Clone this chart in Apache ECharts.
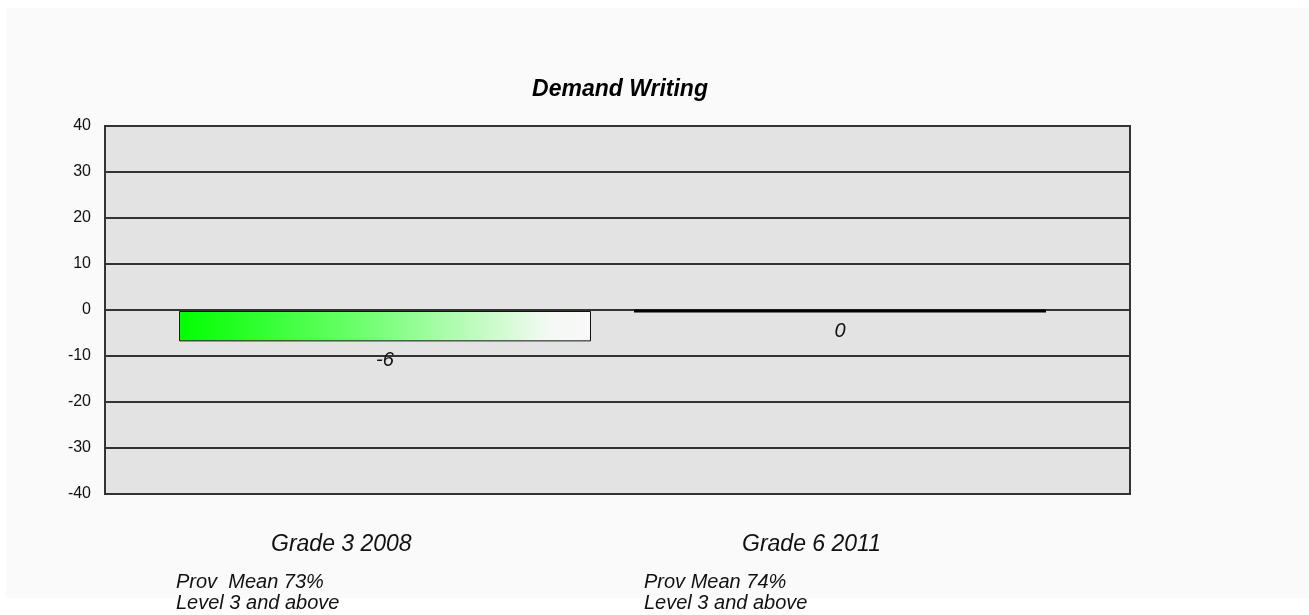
<!DOCTYPE html>
<html>
<head>
<meta charset="utf-8">
<script src="https://cdn.jsdelivr.net/npm/echarts@6/dist/echarts.min.js"></script>
<style>
  html, body { margin: 0; padding: 0; background: #ffffff; }
  #frame { position: absolute; left: 6px; top: 8px; width: 1303px; height: 590px; background: #FAFAFA; }
  #chart { position: absolute; left: 0; top: 0; width: 1309px; height: 615px; }
</style>
</head>
<body>
<div id="frame"></div>
<div id="chart"></div>
<script>
const chartTitle = "Demand Writing";
const categories = ["Grade 3 2008", "Grade 6 2011"];
const values = [-6.6, 0];
const provMean = ["Prov  Mean 73%", "Prov Mean 74%"];
const levelNote = ["Level 3 and above", "Level 3 and above"];
const yTicks = { min: -40, max: 40, interval: 10 };

const chart = echarts.init(document.getElementById('chart'), null, { renderer: 'canvas' });

const grad = new echarts.graphic.LinearGradient(0, 0, 1, 0, [
  { offset: 0, color: '#00FF00' },
  { offset: 0.45, color: '#70FF70' },
  { offset: 0.9, color: '#F4F9F4' },
  { offset: 1, color: '#F8F8F8' }
]);

const barData = values.map(v => ({
  value: v,
  itemStyle: v === 0
    ? { color: '#000', borderColor: '#000', borderWidth: 3 }
    : { color: grad, borderColor: '#111', borderWidth: 1 }
}));

const font = 'Arial, "Liberation Sans", sans-serif';

const labelCenters = [344, 815];
const noteLefts = [176, 644];
const graphics = [];
categories.forEach((c, i) => {
  graphics.push({ type: 'text', left: labelCenters[i] - 73, top: 533,
    style: { text: c, font: 'italic 23px ' + font, fill: '#111' } });
  graphics.push({ type: 'text', left: noteLefts[i], top: 572,
    style: { text: provMean[i], font: 'italic 20px ' + font, fill: '#111' } });
  graphics.push({ type: 'text', left: noteLefts[i], top: 593,
    style: { text: levelNote[i], font: 'italic 20px ' + font, fill: '#111' } });
});

chart.setOption({
  backgroundColor: 'transparent',
  animation: false,
  title: {
    text: chartTitle, left: 615, top: 73, textAlign: 'center',
    textStyle: { fontFamily: font, fontSize: 23, fontStyle: 'italic', fontWeight: 'bold', color: '#000' }
  },
  grid: [
    { left: 105, right: 179, top: 126, bottom: 121, show: true, backgroundColor: '#E3E3E3', borderColor: '#333', borderWidth: 2 },
    { left: 157.5, right: 241.5, top: 127, bottom: 120 }
  ],
  xAxis: [
    { type: 'category', gridIndex: 0, data: categories, show: false },
    { type: 'category', gridIndex: 1, data: categories, show: false }
  ],
  yAxis: [
    { type: 'value', gridIndex: 0, min: yTicks.min, max: yTicks.max, interval: yTicks.interval,
      axisLine: { show: true, lineStyle: { color: '#333', width: 2 } },
      axisTick: { show: false },
      axisLabel: { color: '#111', fontSize: 16, fontFamily: font, margin: 14 },
      splitLine: { show: true, lineStyle: { color: '#333', width: 2 } } },
    { type: 'value', gridIndex: 1, min: yTicks.min, max: yTicks.max, interval: yTicks.interval, show: false,
      splitLine: { show: false } }
  ],
  series: [{
    type: 'bar', xAxisIndex: 1, yAxisIndex: 1, data: barData, barWidth: 412,
    label: { show: true, position: 'bottom', distance: 9,
      formatter: p => String(Math.trunc(p.value)),
      fontFamily: font, fontSize: 20, fontStyle: 'italic', color: '#111' }
  }],
  graphic: graphics
});
</script>
</body>
</html>
